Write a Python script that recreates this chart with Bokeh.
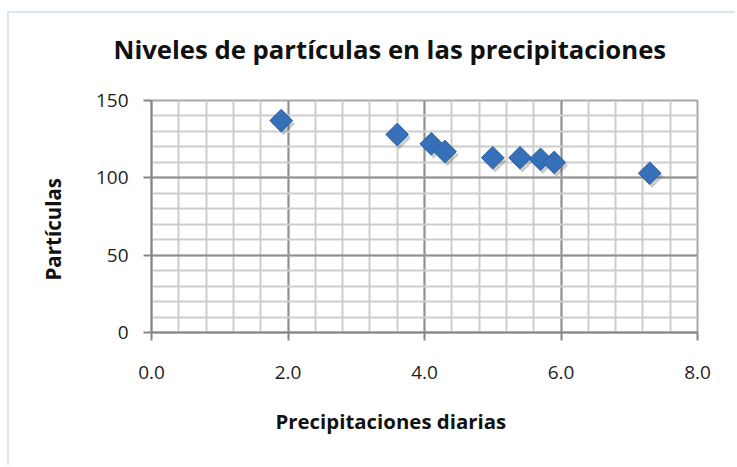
import math
from bokeh.plotting import figure
from bokeh.models import (Range1d, SingleIntervalTicker, PrintfTickFormatter,
                          ColumnDataSource, Title)
from bokeh.transform import dodge
from bokeh.embed import file_html
from bokeh.resources import INLINE

# ---- data ----
precipitaciones = [1.9, 3.6, 4.1, 4.3, 5.0, 5.4, 5.7, 5.9, 7.3]
particulas = [137, 128, 122, 117, 113, 113, 112, 110, 103]
x_ticks_interval = 2.0
y_ticks_interval = 50
title_text = "Niveles de partículas en las precipitaciones"
x_label = "Precipitaciones diarias"
y_label = "Partículas"

FONT = "Open Sans"

src = ColumnDataSource(dict(x=precipitaciones, y=particulas))

p = figure(width=728, height=454, output_backend="svg", toolbar_location=None,
           x_range=Range1d(0, 8), y_range=Range1d(0, 150),
           min_border_left=142, min_border_right=40,
           min_border_top=87, min_border_bottom=135)
p.styles = {"border-top": "2px solid #dbe5f2", "border-left": "2px solid #dbe5f2",
            "margin-top": "11px", "margin-left": "7px"}

p.background_fill_color = "white"
p.border_fill_color = "white"
p.outline_line_color = "#a8a8a8"
p.outline_line_width = 2

# spacer between frame and title (closest to the frame)
p.add_layout(Title(text=" ", text_font_size="1px", standoff=14), "above")

# title
p.title.text = title_text
p.title.text_font = FONT
p.title.text_font_size = "25.7px"
p.title.text_font_style = "bold"
p.title.text_color = "#111111"
p.title.align = "left"
p.title.offset = -38
p.title.standoff = 33

# axis labels as side titles
p.add_layout(Title(text=x_label, align="left", offset=124, standoff=46,
                   text_font=FONT, text_font_size="20.4px", text_font_style="bold",
                   text_color="#111111"), "below")
p.add_layout(Title(text=y_label, align="left", offset=52, standoff=51,
                   text_font=FONT, text_font_size="20.5px", text_font_style="bold",
                   text_color="#111111"), "left")

# axes
p.xaxis.ticker = SingleIntervalTicker(interval=x_ticks_interval, num_minor_ticks=5)
p.yaxis.ticker = SingleIntervalTicker(interval=y_ticks_interval, num_minor_ticks=5)
p.xaxis.formatter = PrintfTickFormatter(format="%.1f")
for ax in (p.xaxis, p.yaxis):
    ax.axis_line_color = "#868686"
    ax.axis_line_width = 2
    ax.major_tick_line_color = "#868686"
    ax.major_tick_line_width = 2
    ax.major_tick_out = 8
    ax.major_tick_in = 0
    ax.minor_tick_out = 0
    ax.minor_tick_in = 0
    ax.major_label_text_font = FONT
    ax.major_label_text_font_size = "19px"
    ax.major_label_text_color = "#1e1e1e"
p.xaxis.major_label_standoff = 25
p.yaxis.major_label_standoff = 15

# grid
for g in (p.xgrid, p.ygrid):
    g.grid_line_color = "#909090"
    g.grid_line_width = 2
    g.minor_grid_line_color = "#cdcdcd"
    g.minor_grid_line_width = 2

# shadows + markers
p.scatter(x=dodge("x", 0.035, range=p.x_range), y=dodge("y", -2.2, range=p.y_range),
          source=src, marker="square", angle=math.pi / 4, size=16,
          fill_color="#555555", fill_alpha=0.3, line_color=None)
p.scatter(x="x", y="y", source=src, marker="square", angle=math.pi / 4, size=16,
          fill_color="#3670b8", line_color="#2c5f9f", line_width=1)

open("out.html", "w").write(file_html(p, INLINE))
